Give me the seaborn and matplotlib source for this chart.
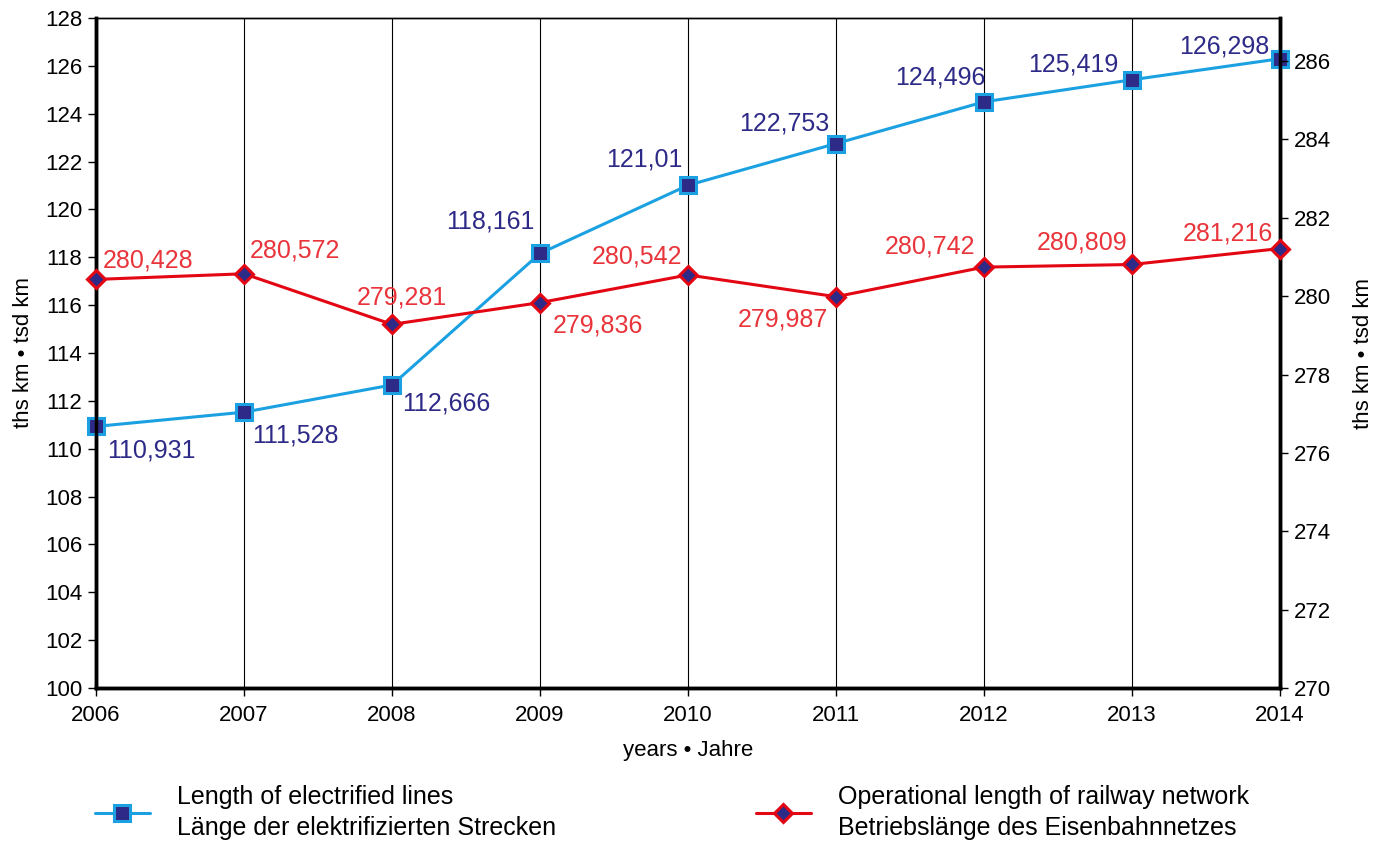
import pandas as pd
import matplotlib
matplotlib.use("Agg")
import matplotlib.pyplot as plt
import seaborn as sns

years = [2006, 2007, 2008, 2009, 2010, 2011, 2012, 2013, 2014]
electrified = [110.931, 111.528, 112.666, 118.161, 121.01, 122.753, 124.496, 125.419, 126.298]
operational = [280.428, 280.572, 279.281, 279.836, 280.542, 279.987, 280.742, 280.809, 281.216]
electrified_labels = ["110,931", "111,528", "112,666", "118,161", "121,01", "122,753", "124,496", "125,419", "126,298"]
operational_labels = ["280,428", "280,572", "279,281", "279,836", "280,542", "279,987", "280,742", "280,809", "281,216"]

# label placement (dx, dy in points, ha, va)
blue_pos = [(8, -9, "left", "top"), (6, -8, "left", "top"), (7, -5, "left", "top"),
            (-4, 14, "right", "bottom"), (-4, 10, "right", "bottom"), (-5, 6, "right", "bottom"),
            (1, 9, "right", "bottom"), (-10, 2, "right", "bottom"), (-8, 0, "right", "bottom")]
red_pos = [(5, 5, "left", "bottom"), (4, 8, "left", "bottom"), (7, 11, "center", "bottom"),
           (9, -8, "left", "top"), (-4, 5, "right", "bottom"), (-6, -8, "right", "top"),
           (-6, 6, "right", "bottom"), (-3, 7, "right", "bottom"), (-5, 2, "right", "bottom")]

df = pd.DataFrame({"year": years, "electrified": electrified, "operational": operational})

sns.set_theme(style="white")
plt.rcParams['font.family'] = ['Liberation Sans', 'DejaVu Sans']

BLUE = "#1ba1e2"
NAVY = "#2e2a87"
RED = "#e30613"
RED_TXT = "#e8343a"

fig = plt.figure(figsize=(13.87, 8.41), dpi=100)
ax = fig.add_axes([96 / 1387, 1 - 688 / 841, (1280 - 96) / 1387, (688 - 18) / 841])
ax2 = ax.twinx()

sns.lineplot(data=df, x="year", y="electrified", ax=ax, color=BLUE, linewidth=2.2,
             marker="s", markersize=11, markerfacecolor=NAVY, markeredgecolor=BLUE,
             markeredgewidth=2.2, label="Length of electrified lines\nLänge der elektrifizierten Strecken",
             legend=False, clip_on=False, zorder=5)
sns.lineplot(data=df, x="year", y="operational", ax=ax2, color=RED, linewidth=2.2,
             marker="D", markersize=9, markerfacecolor=NAVY, markeredgecolor=RED,
             markeredgewidth=2.2, label="Operational length of railway network\nBetriebslänge des Eisenbahnnetzes",
             legend=False, clip_on=False, zorder=5)

for x, y, t, (dx, dy, ha, va) in zip(years, electrified, electrified_labels, blue_pos):
    ax.annotate(t, (x, y), xytext=(dx, dy), textcoords="offset points",
                ha=ha, va=va, fontsize=18, color=NAVY)
for x, y, t, (dx, dy, ha, va) in zip(years, operational, operational_labels, red_pos):
    ax2.annotate(t, (x, y), xytext=(dx, dy), textcoords="offset points",
                 ha=ha, va=va, fontsize=18, color=RED_TXT)

ax.set_xlim(2006, 2014)
ax.set_ylim(100, 128)
ax2.set_ylim(270, 287.1)
ax.set_xticks(years)
ax.set_yticks(range(100, 129, 2))
ax2.set_yticks(range(270, 287, 2))

for y_ in years:
    ax.axvline(y_, color="black", linewidth=0.8, zorder=0)

for a in (ax, ax2):
    a.tick_params(axis="both", labelsize=16, colors="black", length=6, width=1, direction="out", pad=4)
    for s in a.spines.values():
        s.set_color("black")
    a.spines["left"].set_linewidth(2.5)
    a.spines["bottom"].set_linewidth(2.5)
    a.spines["right"].set_linewidth(2.5)
    a.spines["top"].set_linewidth(1)
ax.tick_params(axis="y", left=True)
ax.tick_params(axis="x", bottom=True, pad=6)
ax2.tick_params(axis="y", right=True)

ax.set_xlabel("years • Jahre", fontsize=16, labelpad=10, color="black")
ax.set_ylabel("ths km • tsd km", fontsize=16, labelpad=8, color="black")
ax2.set_ylabel("ths km • tsd km", fontsize=16, labelpad=16, color="black")

h1, l1 = ax.get_legend_handles_labels()
h2, l2 = ax2.get_legend_handles_labels()
leg = fig.legend(h1 + h2, l1 + l2, loc="center left", bbox_to_anchor=(0.052, 0.034), ncol=2,
                 frameon=False, fontsize=18, handlelength=2.2, columnspacing=8.0,
                 handletextpad=1.08, labelspacing=0.2, labelcolor="black")
for t in leg.get_texts():
    t.set_linespacing(1.4)

fig.savefig("out.png", dpi=100)
